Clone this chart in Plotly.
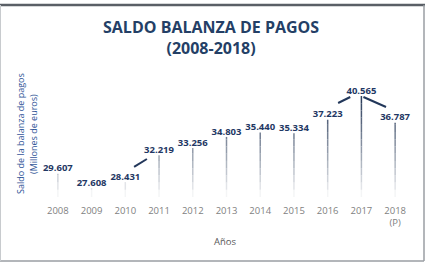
import plotly.graph_objects as go

# ---------------- data ----------------
years = ["2008", "2009", "2010", "2011", "2012", "2013", "2014", "2015", "2016", "2017", "2018"]
tick_labels = ["2008", "2009", "2010", "2011", "2012", "2013", "2014", "2015", "2016", "2017", "2018<br>(P)"]
values = [29607, 27608, 28431, 32219, 33256, 34803, 35440, 35334, 37223, 40565, 36787]
value_labels = [f"{v:,}".replace(",", ".") for v in values]

title_text = "SALDO BALANZA DE PAGOS<br>(2008-2018)"
y_title_1 = "Saldo de la balanza de pagos"
y_title_2 = "(Millones de euros)"
x_title = "Años"

# leader lines of moved data labels: (index, dx0, dy0, dx1, dy1) relative to the point
leaders = [(3, -0.74, -1650, -0.36, -530),
           (9, -0.69, -985, -0.33, -140),
           (9, 0.06, -140, 0.73, -1548)]

# ---------------- layout geometry ----------------
W, H = 429, 269
ML, MR, MT, MB = 41, 17, 60, 72
PW, PH = W - ML - MR, H - MT - MB
Y_MIN, Y_MAX = 26340, 45636

def px_x(px):
    return (px - ML) / PW

def px_y(py):
    return (H - MB - py) / PH

fig = go.Figure()

# drop lines with a vertical gradient (dark at top, fading to white at bottom)
N = 14
top_v = max(values)
for k in range(N):
    a = Y_MIN + (top_v - Y_MIN) * k / N
    b = Y_MIN + (top_v - Y_MIN) * (k + 1) / N
    t = ((a + b) / 2 - Y_MIN) / (top_v - Y_MIN)
    alpha = max(0.04, min(1.0, t ** 0.9))
    col = tuple(int(255 + (c - 255) * alpha) for c in (40, 58, 88))
    xs, ys = [], []
    for i, v in enumerate(values):
        if v > a:
            xs += [i, i, None]
            ys += [a, min(b, v), None]
    fig.add_trace(go.Scatter(x=xs, y=ys, mode="lines",
                             line=dict(color=f"rgb{col}", width=1.5),
                             hoverinfo="skip", showlegend=False))

# leader lines
for idx, dx0, dy0, dx1, dy1 in leaders:
    fig.add_trace(go.Scatter(x=[idx + dx0, idx + dx1],
                             y=[values[idx] + dy0, values[idx] + dy1],
                             mode="lines", line=dict(color="#22375A", width=2),
                             hoverinfo="skip", showlegend=False))

# value labels
fig.add_trace(go.Scatter(x=list(range(len(values))), y=values, mode="text",
                         text=value_labels, textposition="top center",
                         textfont=dict(family="Open Sans", size=9.5, color="#1F3864", weight="bold"),
                         cliponaxis=False, hoverinfo="skip", showlegend=False))

fig.update_layout(
    width=W, height=H,
    margin=dict(l=ML, r=MR, t=MT, b=MB),
    paper_bgcolor="white", plot_bgcolor="white",
    xaxis=dict(range=[-0.5, 10.5], tickvals=list(range(len(years))), ticktext=tick_labels,
               showgrid=False, zeroline=False, showline=False, ticks="",
               ticklabelstandoff=6,
               tickfont=dict(family="Open Sans", size=9.5, color="#7F7F7F")),
    yaxis=dict(range=[Y_MIN, Y_MAX], showgrid=False, zeroline=False, showline=False,
               showticklabels=False, ticks=""),
    font=dict(family="Open Sans"),
)

# title
fig.add_annotation(text=title_text, x=px_x(211), y=px_y(37), xref="paper", yref="paper",
                   xanchor="center", yanchor="middle", showarrow=False,
                   font=dict(family="Open Sans", size=16, color="#243F66", weight="bold"))

# axis titles
fig.add_annotation(text=y_title_1, textangle=-90,
                   x=px_x(20), y=px_y(134), xref="paper", yref="paper",
                   xanchor="center", yanchor="middle", showarrow=False,
                   font=dict(family="Open Sans", size=9, color="#2F5597"))
fig.add_annotation(text=y_title_2, textangle=-90,
                   x=px_x(33), y=px_y(134), xref="paper", yref="paper",
                   xanchor="center", yanchor="middle", showarrow=False,
                   font=dict(family="Open Sans", size=9, color="#2F5597"))
fig.add_annotation(text=x_title, x=px_x(225), y=px_y(241), xref="paper", yref="paper",
                   xanchor="center", yanchor="middle", showarrow=False,
                   font=dict(family="Open Sans", size=9.5, color="#595959"))

# frame
fig.add_shape(type="line", xref="paper", yref="paper", x0=px_x(0), x1=px_x(425),
              y0=px_y(5), y1=px_y(5), line=dict(color="#5A5F66", width=2.5))
fig.add_shape(type="line", xref="paper", yref="paper", x0=px_x(424), x1=px_x(424),
              y0=px_y(5), y1=px_y(261), line=dict(color="#9A9EA3", width=1.5))
fig.add_shape(type="line", xref="paper", yref="paper", x0=px_x(0), x1=px_x(424),
              y0=px_y(261), y1=px_y(261), line=dict(color="#9A9EA3", width=1.5))
fig.add_shape(type="line", xref="paper", yref="paper", x0=px_x(0.5), x1=px_x(0.5),
              y0=px_y(5), y1=px_y(261), line=dict(color="#C8CBCE", width=1))

fig.write_html("out.html")
